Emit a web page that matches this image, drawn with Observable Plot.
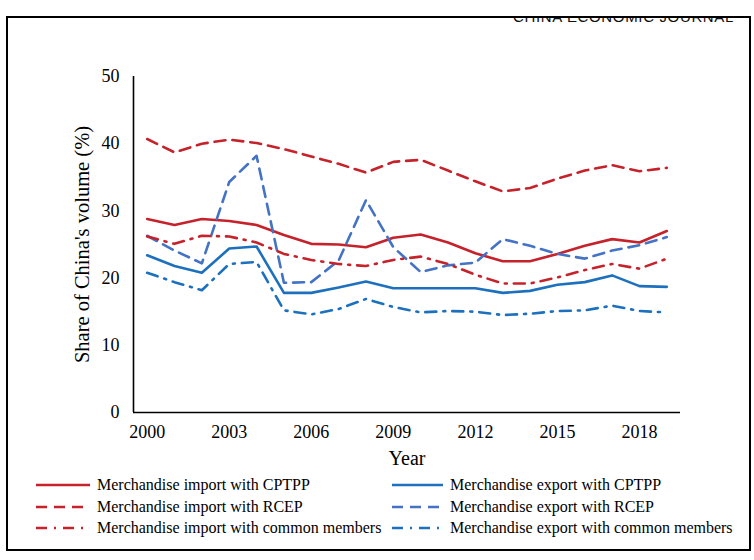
<!DOCTYPE html>
<html>
<head>
<meta charset="utf-8">
<script src="https://cdn.jsdelivr.net/npm/d3@7"></script>
<script src="https://cdn.jsdelivr.net/npm/@observablehq/plot@0.6"></script>
<style>
  html, body { margin: 0; padding: 0; background: #fff; }
  body { width: 754px; height: 560px; position: relative; overflow: hidden; font-family: "Liberation Serif", "Times New Roman", serif; }
  #journal { position: absolute; left: 513px; top: 8px; font-family: "Liberation Sans", Arial, sans-serif; font-size: 15px; letter-spacing: 0.65px; color: #111; z-index: 1; white-space: nowrap; }
  #cover { position: absolute; left: 0; top: 0; width: 754px; height: 17px; background: #fff; z-index: 2; }
  #frame { position: absolute; left: 6px; top: 16px; width: 741px; height: 531px; border: 2.5px solid #000; z-index: 3; pointer-events: none; }
  #chart { position: absolute; left: 0; top: 40px; z-index: 1; }
  .leg { position: absolute; display: flex; align-items: center; font-size: 16px; color: #000; white-space: nowrap; z-index: 1; }
  .leg svg { margin-right: 7px; }
</style>
</head>
<body>
<div id="journal">CHINA ECONOMIC JOURNAL</div>
<div id="cover"></div>
<div id="frame"></div>
<div id="chart"></div>
<div id="legend"></div>
<script>
const years = [2000,2001,2002,2003,2004,2005,2006,2007,2008,2009,2010,2011,2012,2013,2014,2015,2016,2017,2018,2019];
const xTicks = [2000,2003,2006,2009,2012,2015,2018];
const yTicks = [0,10,20,30,40,50];

const importCPTPP  = [28.8,27.9,28.8,28.5,27.9,26.4,25.1,25.0,24.6,26.0,26.5,25.3,23.7,22.5,22.5,23.6,24.8,25.8,25.3,27.0];
const importRCEP   = [40.7,38.7,40.0,40.6,40.1,39.2,38.1,37.0,35.7,37.3,37.6,36.0,34.4,32.9,33.4,34.8,36.0,36.8,35.9,36.4];
const importCommon = [26.2,25.1,26.3,26.2,25.3,23.6,22.7,22.1,21.8,22.7,23.2,22.1,20.5,19.2,19.2,20.1,21.2,22.1,21.4,22.9];
const exportCPTPP  = [23.4,21.8,20.8,24.4,24.7,17.8,17.8,18.6,19.5,18.5,18.5,18.5,18.5,17.8,18.1,19.0,19.4,20.4,18.8,18.7];
const exportRCEP   = [26.3,24.1,22.2,34.3,38.2,19.3,19.4,22.6,31.6,24.6,20.9,21.9,22.3,25.8,24.8,23.6,22.9,24.1,24.9,26.1];
const exportCommon = [20.8,19.4,18.2,22.1,22.4,15.2,14.6,15.4,16.9,15.7,14.9,15.1,15.0,14.5,14.7,15.1,15.2,15.9,15.1,14.9];

const seriesNames = [
  "Merchandise import with CPTPP",
  "Merchandise export with CPTPP",
  "Merchandise import with RCEP",
  "Merchandise export with RCEP",
  "Merchandise import with common members",
  "Merchandise export with common members"
];
const seriesValues = [importCPTPP, exportCPTPP, importRCEP, exportRCEP, importCommon, exportCommon];

const RED = "#C5222B", BLUE = "#1C70BD", BLUE2 = "#4472C4";
const SOLID = null, DASH = "11,7", DASHDOT = "11,7,2,7";
const styles = [
  {stroke: RED, dash: SOLID},
  {stroke: BLUE, dash: SOLID},
  {stroke: RED, dash: DASH},
  {stroke: BLUE2, dash: DASH},
  {stroke: RED, dash: DASHDOT},
  {stroke: BLUE, dash: DASHDOT}
];

const lineMarks = seriesValues.map((vals, k) => {
  const rows = years.map((y, i) => ({year: y, value: vals[i]}));
  return Plot.line(rows, {
    x: "year", y: "value",
    stroke: styles[k].stroke, strokeWidth: 2.6,
    strokeDasharray: styles[k].dash || undefined,
    curve: "linear"
  });
});

const chart = Plot.plot({
  width: 754,
  height: 440,
  marginLeft: 133,
  marginRight: 74,
  marginTop: 36,
  marginBottom: 68,
  style: {fontFamily: "Liberation Serif, Times New Roman, serif", fontSize: "18px", color: "#000", background: "transparent"},
  x: {domain: [1999.5, 2019.5]},
  y: {domain: [0, 50]},
  marks: [
    Plot.axisY({ticks: yTicks, tickSize: 0, tickPadding: 14, label: null, fontSize: 18}),
    Plot.axisX({ticks: xTicks, tickSize: 0, tickPadding: 13, tickFormat: d => String(d), label: null, fontSize: 18}),
    Plot.ruleX([1999.5], {y1: 0, y2: 50, stroke: "#000", strokeWidth: 1.6}),
    Plot.ruleY([0], {stroke: "#000", strokeWidth: 1.6}),
    ...lineMarks,
    Plot.text(["Year"], {frameAnchor: "bottom", dy: 52, fontSize: 20, fill: "#000"}),
    Plot.text(["Share of China's volume (%)"], {frameAnchor: "left", textAnchor: "middle", dx: -51, rotate: -90, fontSize: 20.5, fill: "#000"})
  ]
});
document.getElementById("chart").appendChild(chart);

// Legend (HTML below the chart)
const legend = document.getElementById("legend");
const legPos = [
  {left: 36, top: 485, w: 54},
  {left: 392, top: 485, w: 51},
  {left: 36, top: 507, w: 54},
  {left: 392, top: 507, w: 51},
  {left: 36, top: 528, w: 54},
  {left: 392, top: 528, w: 51}
];
seriesNames.forEach((name, k) => {
  const p = legPos[k];
  const div = document.createElement("div");
  div.className = "leg";
  div.style.left = p.left + "px";
  div.style.top = (p.top - 10) + "px";
  div.style.height = "20px";
  const ns = "http://www.w3.org/2000/svg";
  const svg = document.createElementNS(ns, "svg");
  svg.setAttribute("width", p.w);
  svg.setAttribute("height", 6);
  const ln = document.createElementNS(ns, "line");
  ln.setAttribute("x1", 0); ln.setAttribute("x2", p.w);
  ln.setAttribute("y1", 3); ln.setAttribute("y2", 3);
  ln.setAttribute("stroke", styles[k].stroke);
  ln.setAttribute("stroke-width", 2.6);
  if (styles[k].dash) ln.setAttribute("stroke-dasharray", styles[k].dash);
  svg.appendChild(ln);
  div.appendChild(svg);
  const span = document.createElement("span");
  span.textContent = name;
  div.appendChild(span);
  legend.appendChild(div);
});
</script>
</body>
</html>
